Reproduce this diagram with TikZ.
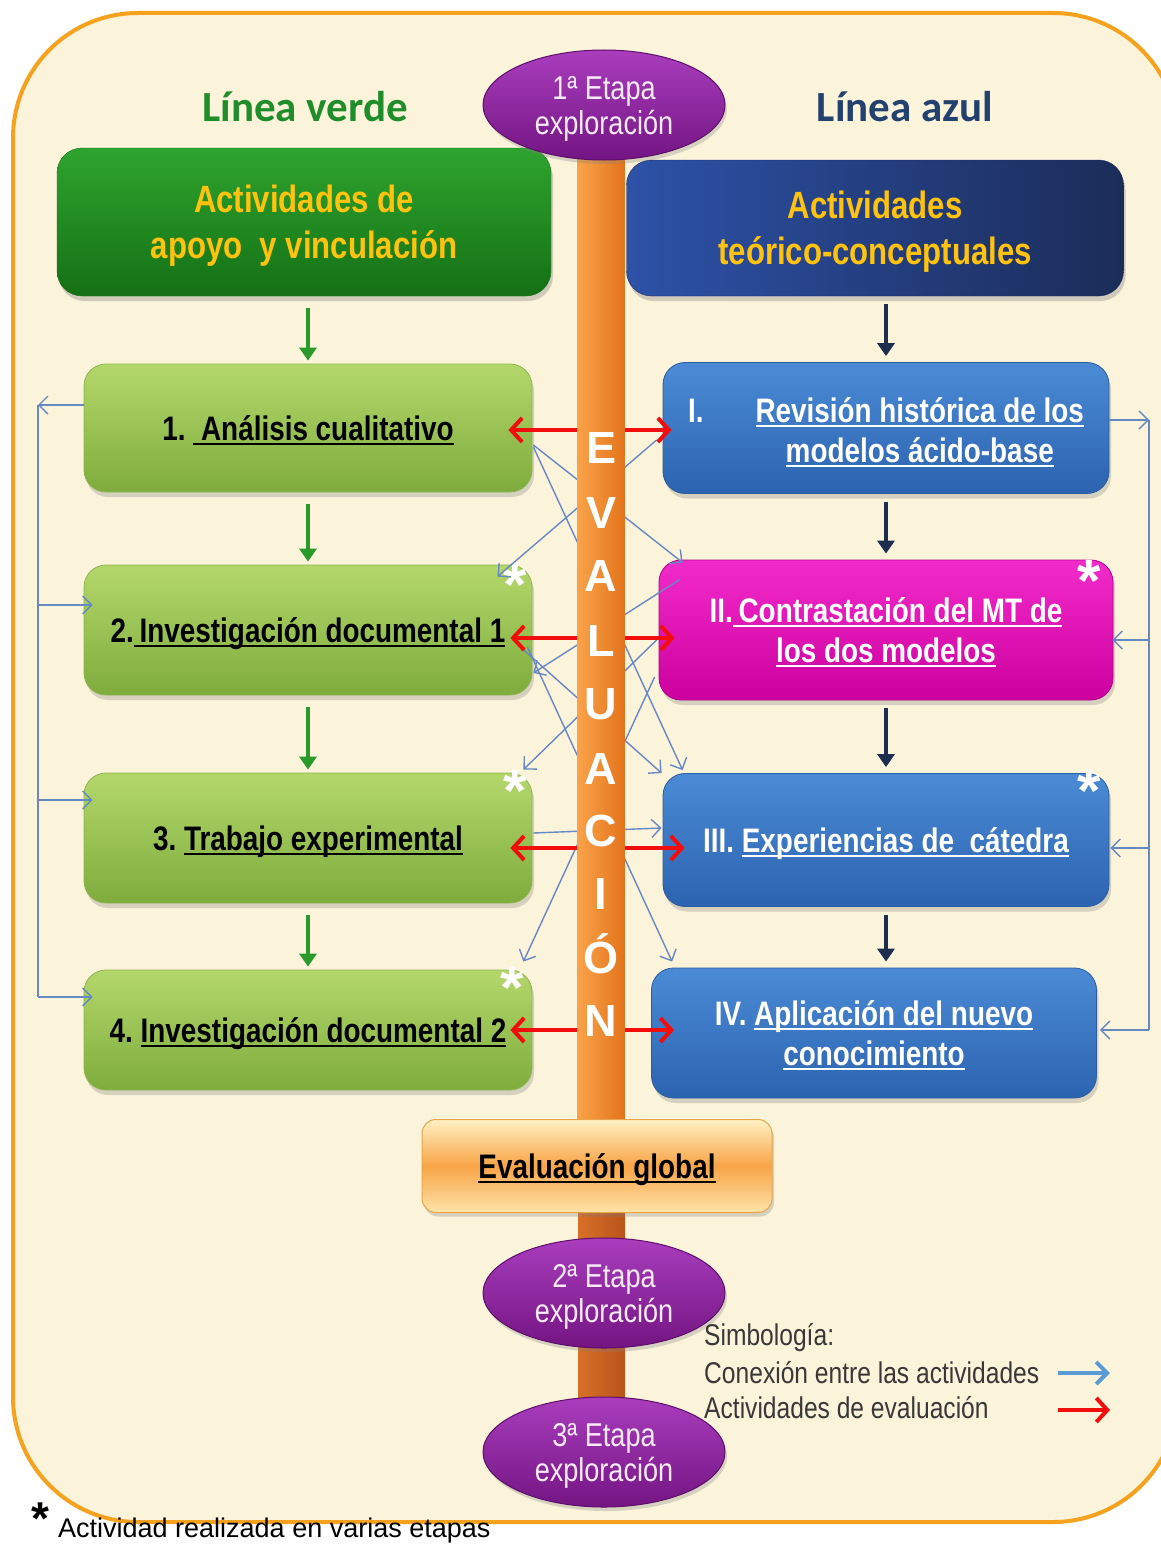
\documentclass[tikz,border=0pt]{standalone}
\usepackage{fontspec}
\setmainfont{Liberation Sans}
\newfontfamily\narrowfont[FakeStretch=0.82]{Liberation Sans}
\newfontfamily\calfont{Carlito}
\usepackage{tikz}
\usetikzlibrary{positioning,arrows.meta,shapes.geometric,shadows}
\usepackage{xcolor}

\definecolor{cream}{HTML}{FCF3DB}
\definecolor{frameor}{HTML}{F7A21E}
\definecolor{hgtop}{HTML}{2EA42E}
\definecolor{hgbot}{HTML}{157015}
\definecolor{hbleft}{HTML}{2D52A8}
\definecolor{hbright}{HTML}{1B2C58}
\definecolor{goldtxt}{HTML}{FFC20E}
\definecolor{lgtop}{HTML}{B4D76B}
\definecolor{lgbot}{HTML}{7FAC3D}
\definecolor{lgline}{HTML}{8DB54F}
\definecolor{bltop}{HTML}{4B8BD6}
\definecolor{blbot}{HTML}{2C63B0}
\definecolor{blline}{HTML}{2A5C9E}
\definecolor{mgtop}{HTML}{F22BCB}
\definecolor{mgbot}{HTML}{CC009E}
\definecolor{mgline}{HTML}{B0008A}
\definecolor{purtop}{HTML}{A93DBD}
\definecolor{purbot}{HTML}{741583}
\definecolor{purline}{HTML}{5E0F6B}
\definecolor{stagetxt}{HTML}{FBEAF7}
\definecolor{barl}{HTML}{F9A249}
\definecolor{bard}{HTML}{E3741A}
\definecolor{barlowl}{HTML}{D8702A}
\definecolor{barlowd}{HTML}{B9541A}
\definecolor{linkc}{HTML}{6689C4}
\definecolor{legbluec}{HTML}{5B9BD5}
\definecolor{evalred}{HTML}{F20D0D}
\definecolor{garrowc}{HTML}{2A9A2A}
\definecolor{narrowc}{HTML}{1E2D4F}
\definecolor{lvgreen}{HTML}{1F8E2A}
\definecolor{laznavy}{HTML}{23416F}
\definecolor{evtop}{HTML}{FFF1C4}
\definecolor{evmid}{HTML}{F8A447}
\definecolor{evbot}{HTML}{FFE3A8}
\definecolor{evline}{HTML}{E9A54A}
\definecolor{legtxt}{HTML}{383838}

% thick underline for the activity titles
\newcommand{\ulin}[1]{\setbox0=\hbox{#1}\rlap{\rule[-5pt]{\wd0}{2.2pt}}\box0}

\begin{document}
\begin{tikzpicture}[x=1pt,y=-1pt,
  actbox/.style={rounded corners=22pt, minimum width=448pt, minimum height=128pt,
    align=center, inner sep=0pt, line width=.8pt, text depth=0pt,
    font=\narrowfont\bfseries\fontsize{34}{40}\selectfont,
    drop shadow={shadow xshift=2pt,shadow yshift=-5pt,opacity=.3}},
  greenact/.style={actbox, top color=lgtop, bottom color=lgbot, draw=lgline},
  blueact/.style={actbox, top color=bltop, bottom color=blbot, draw=blline, text=white},
  pinkact/.style={actbox, top color=mgtop, bottom color=mgbot, draw=mgline, text=white},
  headbox/.style={rounded corners=25pt, align=center, inner sep=0pt, text=goldtxt, text depth=0pt,
    font=\narrowfont\bfseries\fontsize{38}{46}\selectfont,
    drop shadow={shadow xshift=2pt,shadow yshift=-5pt,opacity=.35}},
  stage/.style={ellipse, minimum width=242pt, minimum height=110pt, inner sep=0pt,
    top color=purtop, bottom color=purbot, draw=purline, line width=1pt, text depth=0pt,
    align=center, text=stagetxt, font=\narrowfont\fontsize{33}{35}\selectfont,
    drop shadow={shadow xshift=2pt,shadow yshift=-4pt,opacity=.3}},
  starmark/.style={text=white, font=\bfseries\fontsize{60}{60}\selectfont, anchor=base, inner sep=0pt},
  evalletter/.style={text=white, font=\bfseries\fontsize{45}{45}\selectfont, anchor=base, inner sep=0pt},
  garrow/.style={draw=garrowc, line width=3.5pt, -{Triangle[length=13pt,width=17pt]},
    shorten <=12pt, shorten >=3pt},
  narrow/.style={draw=narrowc, line width=3.5pt, -{Triangle[length=13pt,width=17pt]},
    shorten <=8pt, shorten >=6pt},
  link/.style={draw=linkc, line width=1.4pt, -{Straight Barb[length=9pt,width=18pt]}},
  linkline/.style={draw=linkc, line width=1.4pt},
  evalarr/.style={draw=evalred, line width=4pt, -{Straight Barb[length=11pt,width=24pt]}},
  legtext/.style={anchor=west, inner sep=0pt, text=legtxt, font=\narrowfont\fontsize{30}{30}\selectfont}]

\useasboundingbox (0,0) rectangle (1161,1544);
\clip (0,0) rectangle (1161,1544);
\fill[white] (0,0) rectangle (1161,1544);

% cream panel with the orange frame
\filldraw[fill=cream, draw=frameor, line width=4pt, rounded corners=125pt] (13,13) rectangle (1178,1522);

% line titles
\node[font=\calfont\bfseries\fontsize{43}{50}\selectfont, text=lvgreen] (tverde) at (305,107) {Línea verde};
\node[font=\calfont\bfseries\fontsize{43}{50}\selectfont, text=laznavy] (tazul) at (905,107) {Línea azul};

% headers of both lines
\node[headbox, minimum width=494pt, minimum height=148pt, top color=hgtop, bottom color=hgbot, draw=hgbot] (hgreen) at (304,222) {Actividades de\\apoyo~~y vinculación};
\node[headbox, minimum width=497pt, minimum height=136pt, left color=hbleft, right color=hbright, draw=hbright] (hblue) at (875,228) {Actividades\\teórico-conceptuales};

% green line activities
\node[greenact] (b1) at (308,428) {1.\ \ulin{\ Análisis cualitativo}};
\node[greenact, minimum height=130pt] (b2) at (308,630) {2.\ulin{\,Investigación documental 1}};
\node[greenact, minimum height=130pt] (b3) at (308,838) {3.\ \ulin{Trabajo experimental}};
\node[greenact, minimum height=120pt] (b4) at (308,1030) {4.\ \ulin{Investigación documental 2}};

% blue line activities
\node[blueact, minimum width=446pt, minimum height=131pt] (bI) at (886,428)
  {\begin{tabular}[b]{@{}l@{\hspace{52pt}}c@{}}I. & \ulin{Revisión histórica de los}\\ & \ulin{modelos ácido-base}\end{tabular}};
\node[pinkact, minimum width=454pt, minimum height=140pt] (bII) at (886,630) {II.\ulin{\,Contrastación del MT de}\\\ulin{los dos modelos}};
\node[blueact, minimum width=446pt, minimum height=133pt] (bIII) at (886,840) {III.\ \ulin{Experiencias de~~cátedra}};
\node[blueact, minimum width=445pt, minimum height=130pt] (bIV) at (874,1033) {IV.\ \ulin{Aplicación del nuevo}\\\ulin{conocimiento}};

% activities done in several stages
\node[starmark] (s2) at (515,605) {*};
\node[starmark] (s3) at (515,811) {*};
\node[starmark] (s4) at (512,1008) {*};
\node[starmark] (sII) at (1089,601) {*};
\node[starmark] (sIII) at (1089,811) {*};

% sequence inside each line
\draw[garrow] (b1.north |- hgreen.south) -- (b1.north);
\draw[garrow] (b1) -- (b2);
\draw[garrow] (b2) -- (b3);
\draw[garrow] (b3) -- (b4);
\draw[narrow] (bI.north |- hblue.south) -- (bI.north);
\draw[narrow] (bI) -- (bII);
\draw[narrow] (bII) -- (bIII);
\draw[narrow] (bIII.south) -- (bIII.south |- bIV.north);

% left return rail
\coordinate (railL) at (38,405);
\coordinate (railLb) at (38,997);
\coordinate (in2) at ([shift={(9,-25)}]b2.west);
\coordinate (in3) at ([shift={(9,-38)}]b3.west);
\coordinate (in4) at ([shift={(9,-33)}]b4.west);
\draw[link] ([shift={(0,-23)}]b1.west) -- (railL);
\draw[linkline] (railL) -- (railLb);
\draw[link] (railL |- in2) -- (in2);
\draw[link] (railL |- in3) -- (in3);
\draw[link] (railLb) -- (in4);

% right return rail
\coordinate (railR) at (1149,420);
\coordinate (railRb) at (1149,1030);
\coordinate (inII) at ([shift={(-1,10)}]bII.east);
\coordinate (inIII) at ([shift={(1,8)}]bIII.east);
\coordinate (inIV) at ([shift={(3,-3)}]bIV.east);
\draw[link] ([shift={(0,-8)}]bI.east) -- (railR);
\draw[linkline] (railR) -- (railRb);
\draw[link] (railR |- inII) -- (inII);
\draw[link] (railR |- inIII) -- (inIII);
\draw[link] (railRb) -- (inIV);

% crossed connections, they run behind the bar
\draw[link] ([shift={(1,17)}]b1.east) -- ([shift={(24,3)}]bII.north west);
\draw[link] ([shift={(1,19)}]b1.east) -- ([shift={(20,-3)}]bIII.north west);
\draw[link] ([shift={(-6,12)}]bI.west) -- ([shift={(-35,12)}]b2.north east);
\draw[link] ([shift={(21,20)}]bII.north west) -- ([shift={(1,43)}]b2.east);
\draw[link] ([shift={(-12,17)}]b2.east) -- ([shift={(-1,0)}]bIII.north west);
\draw[link] ([shift={(-5,17)}]b2.east) -- ([shift={(21,-6)}]bIV.north west);
\draw[link] ([shift={(-2,10)}]bII.west) -- ([shift={(-9,-3)}]b3.north east);
\draw[link] ([shift={(-4,47)}]bII.west) -- ([shift={(-9,-8)}]b4.north east);
\draw[link] ([shift={(1,-5)}]b3.east) -- ([shift={(-1,-12)}]bIII.west);

% evaluation bar
\node[minimum width=47pt, minimum height=1000pt, inner sep=0pt, left color=barl, right color=bard] (bar) at (601,630) {};
\fill[left color=barlowl, right color=barlowd] (578,1125) rectangle (625,1480);
\foreach \ch/\yy in {E/447,V/512,A/575,L/640,U/703,A/768,C/830,I/893,Ó/957,N/1020}
  \node[evalletter] (ev\yy) at (601,{\yy+16}) {\ch};

% stages
\node[stage] (st1) at (604,105) {1ª Etapa\\exploración};
\node[stage] (st2) at (604,1293) {2ª Etapa\\exploración};
\node[stage] (st3) at (604,1452) {3ª Etapa\\exploración};

% global evaluation
\node[rounded corners=14pt, minimum width=350pt, minimum height=93pt, inner sep=0pt,
  top color=evtop, bottom color=evbot, middle color=evmid, draw=evline, line width=1pt,
  text depth=0pt, font=\narrowfont\bfseries\fontsize{34}{40}\selectfont,
  drop shadow={shadow xshift=2pt,shadow yshift=-4pt,opacity=.3}] (evg) at (597,1166) {\ulin{Evaluación global}};

% evaluation activities
\coordinate (r1l) at ([shift={(-24,2)}]b1.east);
\coordinate (r1r) at ([shift={(9,2)}]bI.west);
\coordinate (r2l) at ([shift={(-22,8)}]b2.east);
\coordinate (r2r) at ([shift={(16,8)}]bII.west);
\coordinate (r3l) at ([shift={(-22,10)}]b3.east);
\coordinate (r3r) at ([shift={(22,8)}]bIII.west);
\coordinate (r4l) at ([shift={(-22,0)}]b4.east);
\coordinate (r4r) at ([shift={(23,-3)}]bIV.west);
\draw[evalarr] (bar.west |- r1l) -- (r1l);
\draw[evalarr] (bar.east |- r1r) -- (r1r);
\draw[evalarr] (bar.west |- r2l) -- (r2l);
\draw[evalarr] (bar.east |- r2r) -- (r2r);
\draw[evalarr] (bar.west |- r3l) -- (r3l);
\draw[evalarr] (bar.east |- r3r) -- (r3r);
\draw[evalarr] (bar.west |- r4l) -- (r4l);
\draw[evalarr] (bar.east |- r4r) -- (r4r);

% legend
\node[legtext] (lg0) at (704,1338) {Simbología:};
\node[legtext] (lg1) at (704,1373) {Conexión entre las actividades};
\node[legtext] (lg2) at (704,1408) {Actividades de evaluación};
\coordinate (lgb1) at (1058,1373);
\coordinate (lgb2) at (1110,1373);
\coordinate (lgr1) at (1058,1410);
\coordinate (lgr2) at (1110,1410);
\draw[draw=legbluec, line width=4pt, -{Straight Barb[length=11pt,width=22pt]}] (lgb1) -- (lgb2);
\draw[evalarr] (lgr1) -- (lgr2);

% footnote
\node[font=\bfseries\fontsize{46}{46}\selectfont, anchor=base, inner sep=0pt] (fstar) at (40,1534) {*};
\node[font=\fontsize{27}{27}\selectfont, anchor=base west, inner sep=0pt] (fnote) at (58,1537) {Actividad realizada en varias etapas};
\end{tikzpicture}
\end{document}
